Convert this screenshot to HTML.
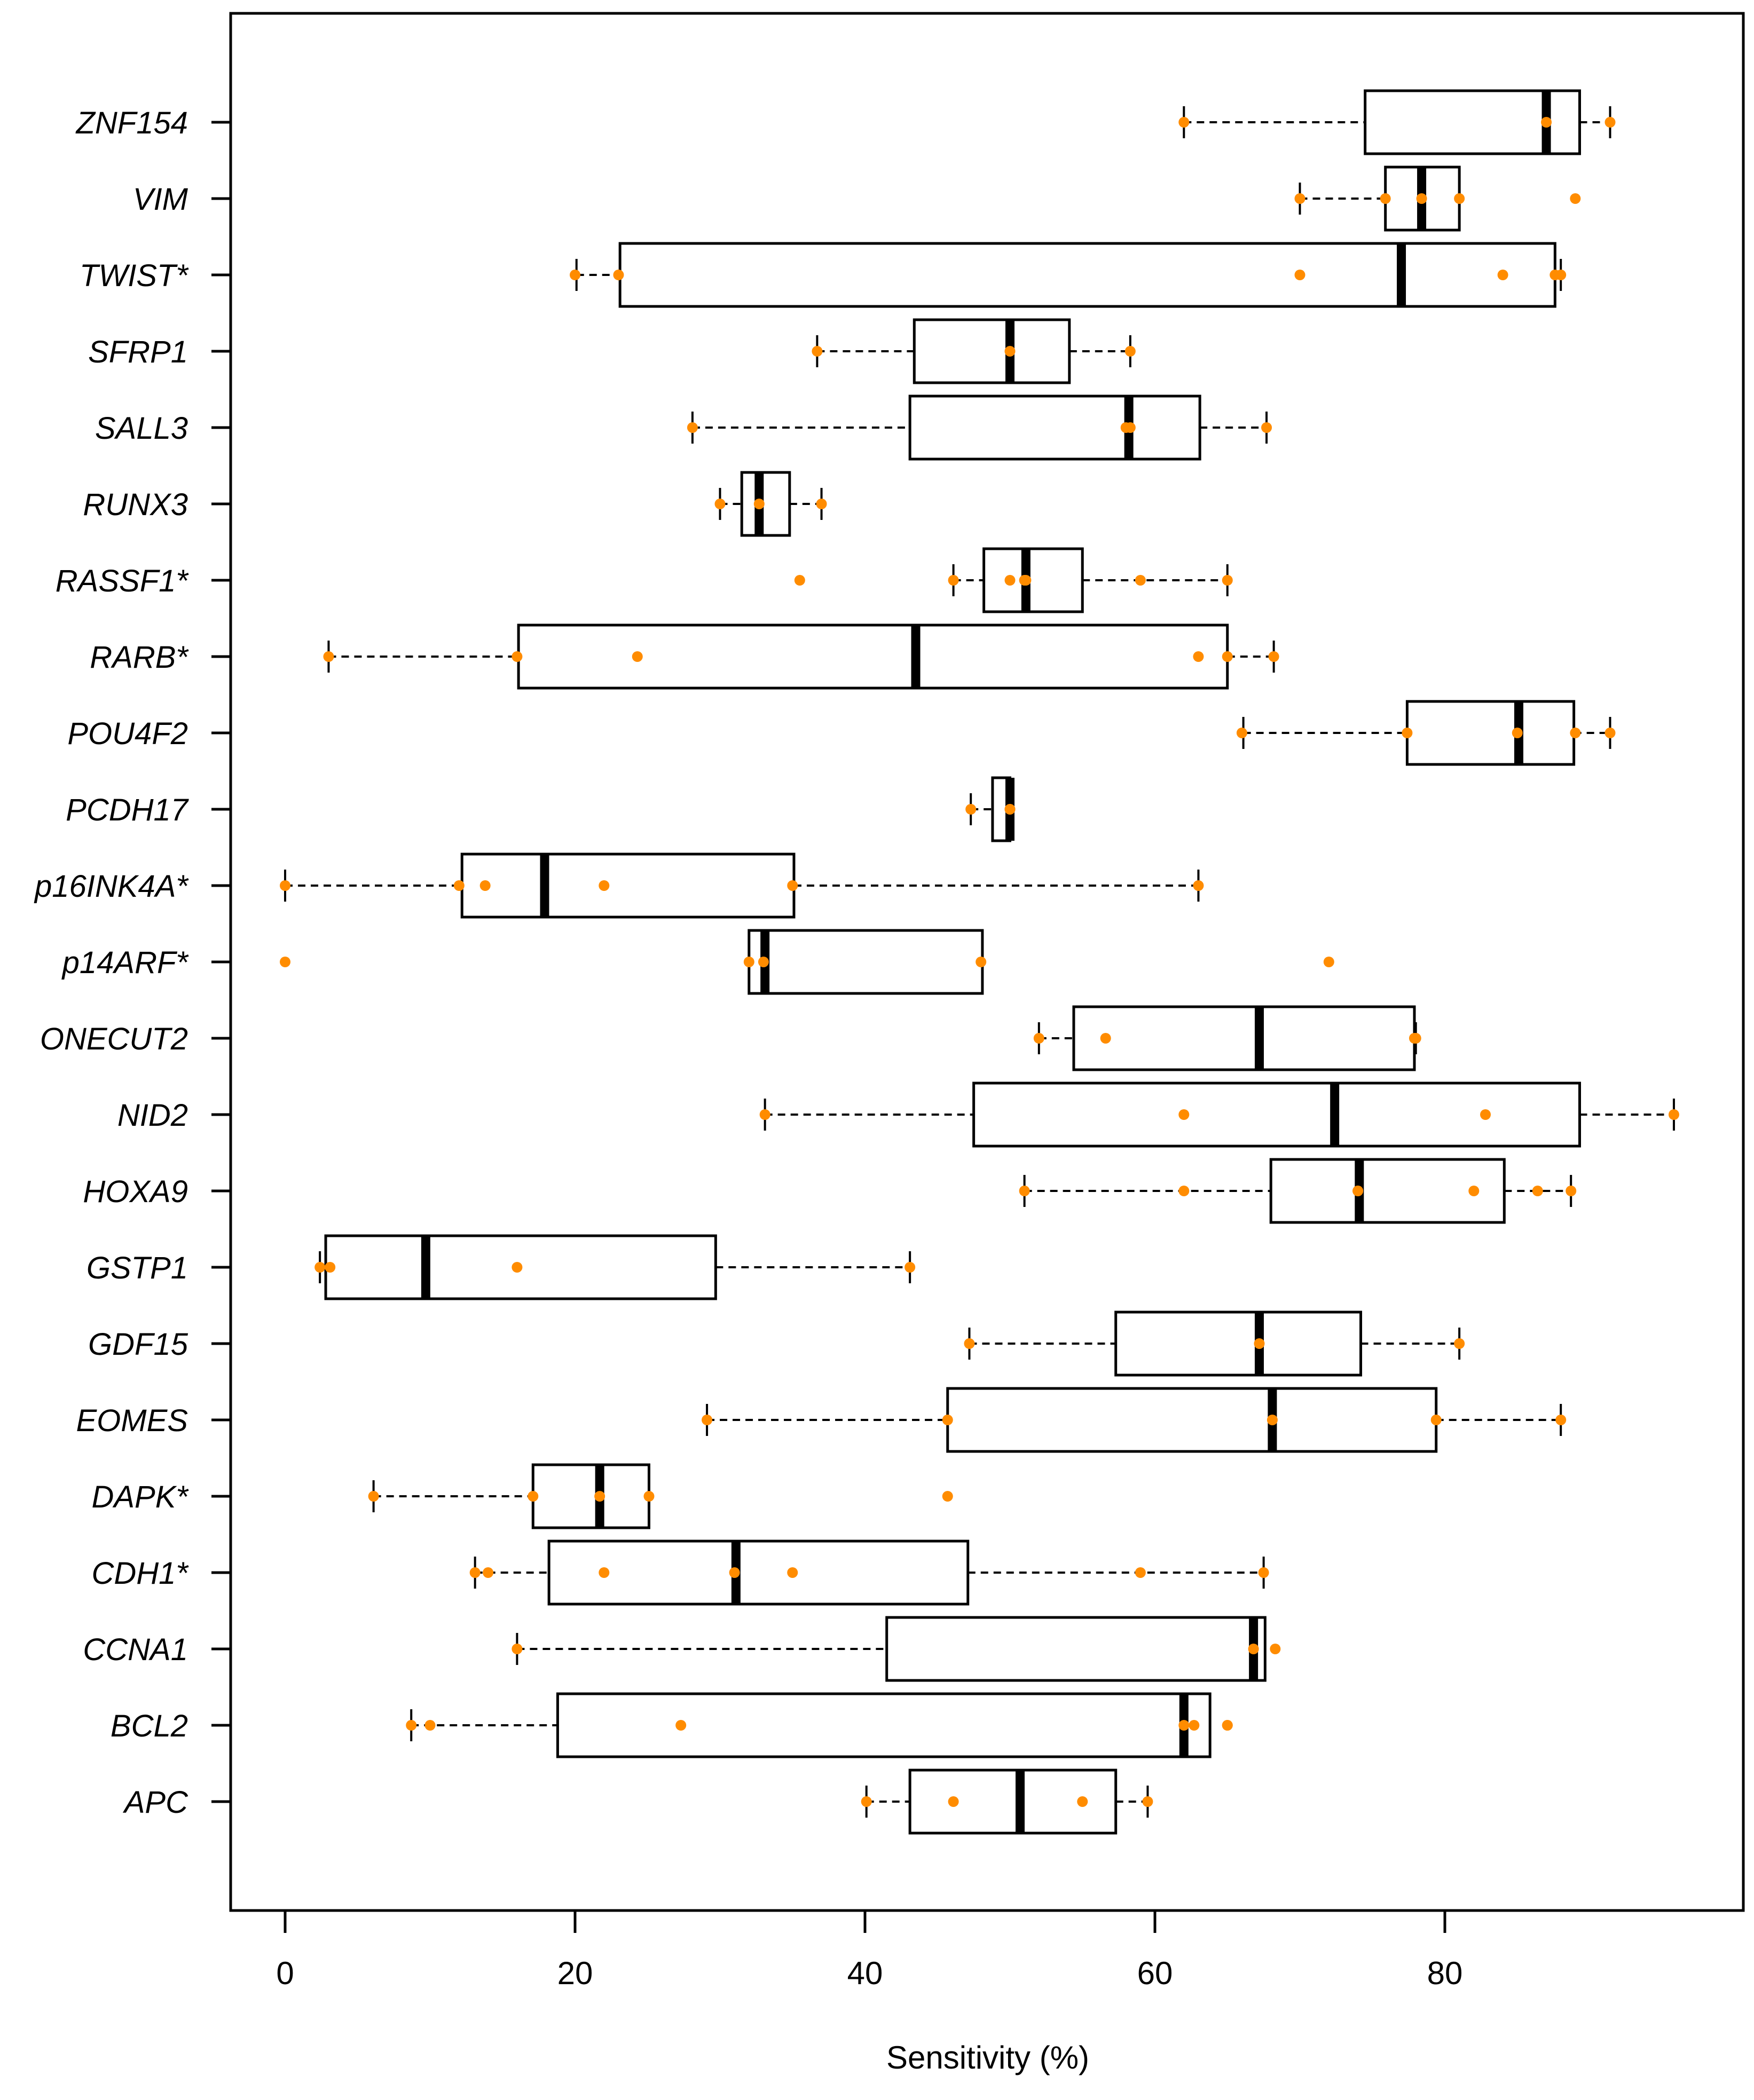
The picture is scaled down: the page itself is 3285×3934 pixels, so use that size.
<!DOCTYPE html>
<html><head><meta charset="utf-8"><style>
html,body{margin:0;padding:0;background:#fff;}
svg{display:block;}
text{font-family:"Liberation Sans",Arial,sans-serif;fill:#000;}
</style></head><body>
<svg id="chart" width="3285" height="3934" viewBox="0 0 3285 3934">
<rect x="432" y="25" width="2833" height="3554" fill="none" stroke="#000" stroke-width="5"/>
<g id="marks"></g>
<text x="1850" y="3875" font-size="60" text-anchor="middle">Sensitivity (%)</text>
</svg>
<script>
const genes = ["ZNF154","VIM","TWIST*","SFRP1","SALL3","RUNX3","RASSF1*","RARB*","POU4F2","PCDH17","p16INK4A*","p14ARF*","ONECUT2","NID2","HOXA9","GSTP1","GDF15","EOMES","DAPK*","CDH1*","CCNA1","BCL2","APC"];
const whiskerLow = [62,70,20.1,36.7,28.1,30,46.1,3,66.1,47.3,0,32,52,33.1,51,2.4,47.2,29.1,6.1,13.1,16,8.7,40.1];
const q1 = [74.5,75.9,23.1,43.4,43.1,31.5,48.2,16.1,77.4,48.8,12.2,32,54.4,47.5,68,2.8,57.3,45.7,17.1,18.2,41.5,18.8,43.1];
const median = [87,78.4,77,50,58.2,32.7,51.1,43.5,85.1,50,17.9,33.1,67.2,72.4,74.1,9.7,67.2,68.1,21.7,31.1,66.8,62,50.7];
const q3 = [89.3,81,87.6,54.1,63.1,34.8,55,65,88.9,50,35.1,48.1,77.9,89.3,84.1,29.7,74.2,79.4,25.1,47.1,67.6,63.8,57.3];
const whiskerHigh = [91.4,81,88,58.3,67.7,37,65,68.2,91.4,50,63,48.1,78,95.8,88.7,43.1,81,88,25.1,67.5,67.6,63.8,59.5];
const points = [
 [62,87,91.4],[70,75.9,78.4,81,89],[20,23,70,84,87.6,88],[36.7,50,58.3],[28.1,58,58.3,67.7],
 [30,32.7,37],[35.5,46.1,50,51,51.1,59,65],[3,16,24.3,63,65,68.2],[66,77.4,85,89,91.4],[47.3,50,50],
 [0,12,13.8,22,35,63],[0,32,33,48,72],[52,56.6,77.9,78],[33.1,62,82.8,95.8],[51,62,74,74,82,86.4,88.7],
 [2.4,3.1,16,43.1],[47.2,67.2,81],[29.1,45.7,68.1,79.4,88],[6.1,17.1,21.7,25.1,45.7],[13.1,14,22,31,35,59,67.5],
 [16,66.8,68.3],[8.7,10,27.3,62,62.7,65,65],[40.1,46.1,55,59.5]];
const xTicks = [0,20,40,60,80];

const X = v => 534 + v*27.15;
const Y = i => 229 + i*(3375-229)/22;
const NS="http://www.w3.org/2000/svg";
const g=document.getElementById('marks');
function mk(tag,attrs){const e=document.createElementNS(NS,tag);for(const k in attrs)e.setAttribute(k,attrs[k]);g.appendChild(e);return e;}
const HB=59;
genes.forEach((name,i)=>{
  const y=Y(i);
  let t=mk('line',{x1:396,x2:432,y1:y,y2:y,stroke:'#000','stroke-width':5});
  
  
  let lb=mk('text',{x:352,y:y+21,'font-size':58,'font-style':'italic','text-anchor':'end'});
  lb.textContent=name;
  
  
  let w1=mk('line',{x1:X(whiskerLow[i]),x2:X(q1[i]),y1:y,y2:y,stroke:'#000','stroke-width':4,'stroke-dasharray':'14 10'});
  
  
  let w2=mk('line',{x1:X(q3[i]),x2:X(whiskerHigh[i]),y1:y,y2:y,stroke:'#000','stroke-width':4,'stroke-dasharray':'14 10'});
  
  
  [whiskerLow[i],whiskerHigh[i]].forEach(v=>{
    let c=mk('line',{x1:X(v),x2:X(v),y1:y-30,y2:y+30,stroke:'#000','stroke-width':4});
    
    
  });
  let b=mk('rect',{x:X(q1[i]),y:y-HB,width:Math.max(1,X(q3[i])-X(q1[i])),height:2*HB,fill:'#fff',stroke:'#000','stroke-width':5});
  
  
  let m=mk('line',{x1:X(median[i]),x2:X(median[i]),y1:y-HB,y2:y+HB,stroke:'#000','stroke-width':17});
  
  
  points[i].forEach(v=>{
    let p=mk('circle',{cx:X(v),cy:y,r:10,fill:'#ff8c00'});
    
    
  });
});
xTicks.forEach(v=>{
  let t=mk('line',{x1:X(v),x2:X(v),y1:3579,y2:3621,stroke:'#000','stroke-width':5});
  
  
  let l=mk('text',{x:X(v),y:3717,'font-size':60,'text-anchor':'middle'});
  l.textContent=v;
  
  
});
</script>
</body></html>
